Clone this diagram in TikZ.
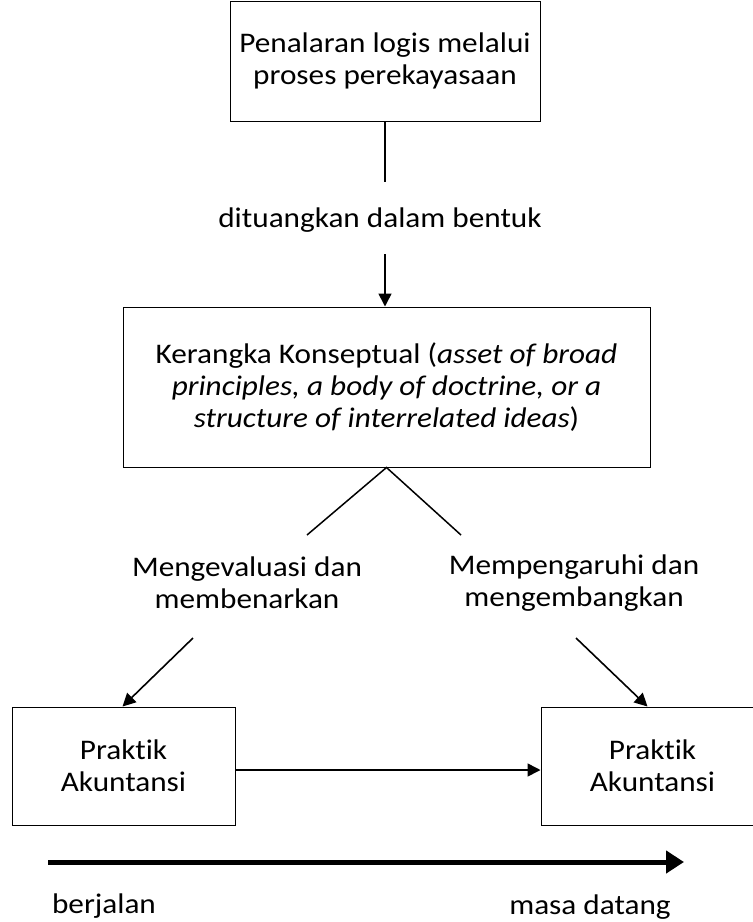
\documentclass[tikz,border=0pt]{standalone}
\usepackage{fontspec}
\setmainfont{Carlito}[FakeStretch=1.1, Ligatures=NoCommon]
\usepackage{tikz}
\usetikzlibrary{arrows.meta}

\begin{document}
\begin{tikzpicture}[x=1pt, y=-1pt,
    kotak/.style={draw, line width=1pt, align=center, inner sep=0pt},
    teks/.style={align=center, inner sep=0pt},
    panah/.style={-{Triangle[length=13pt, width=13pt]}, line width=1.6pt}]
    \useasboundingbox (0,0) rectangle (753,922);
    \fontsize{28.4}{32}\selectfont

    \node[kotak, minimum width=310, minimum height=120] (penalaran) at (385,61)
        {Penalaran logis melalui\\proses perekayasaan};
    \node[kotak, minimum width=527, minimum height=160] (kerangka) at (386.5,387)
        {Kerangka Konseptual (\textit{asset of broad}\\\textit{principles, a body of doctrine, or a}\\\textit{structure of interrelated ideas})};
    \node[kotak, minimum width=223, minimum height=118] (praktik1) at (123.5,766)
        {Praktik\\Akuntansi};
    \node[kotak, minimum width=223, minimum height=118] (praktik2) at (652.5,766)
        {Praktik\\Akuntansi};

    \node[teks] (dituangkan) at (380,220) {dituangkan dalam bentuk};
    \node[teks] (evaluasi) at (247,583) {Mengevaluasi dan\\membenarkan};
    \node[teks] (pengaruh) at (574,583) {Mempengaruhi dan\\mengembangkan};
    \node[teks] (berjalan) at (104,906) {berjalan};
    \node[teks] (datang) at (590,907) {masa datang};

    \coordinate (A1) at (385,182);
    \coordinate (A2) at (385,254);
    \coordinate (K1) at (307,535);
    \coordinate (K2) at (461,535);
    \coordinate (E1) at (193,638);
    \coordinate (P1) at (576,638);
    \coordinate (W1) at (48,862);
    \coordinate (W2) at (684,862);

    \draw[line width=1.6pt] (penalaran.south -| A1) -- (A1);
    \draw[panah] (A2) -- (kerangka.north -| A2);
    \draw[line width=1.5pt] (K1) -- (kerangka.south) -- (K2);
    \draw[panah] (E1) -- ([xshift=-1pt]praktik1.north);
    \draw[panah] (P1) -- ([xshift=107pt]praktik2.north west);
    \draw[panah] (praktik1.east |- 0,770) -- (praktik2.west |- 0,770);
    \draw[-{Triangle[length=18pt, width=22pt]}, line width=5pt] (W1) -- (W2);
\end{tikzpicture}
\end{document}
